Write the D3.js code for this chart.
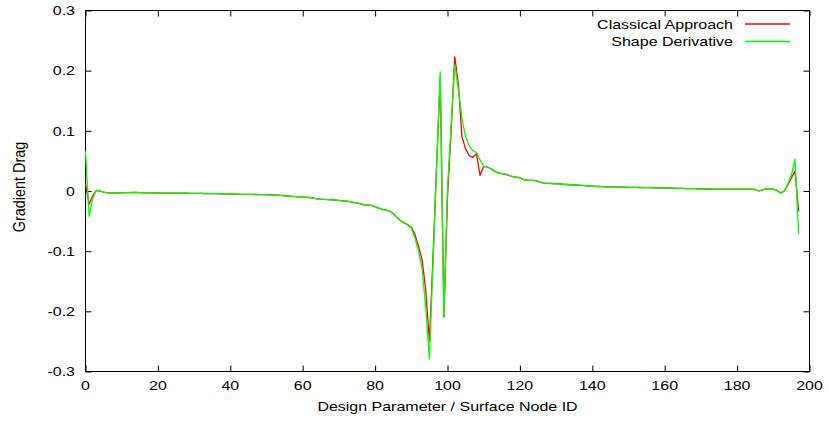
<!DOCTYPE html>
<html>
<head>
<meta charset="utf-8">
<script src="https://cdn.jsdelivr.net/npm/d3@7"></script>
<style>
body { margin: 0; background: #fff; }
text { font-family: "Liberation Sans", Arial, sans-serif; font-size: 16px; fill: #000; }
</style>
</head>
<body>
<svg id="chart" width="829" height="425"></svg>
<script>
'use strict';
// Gradient of drag per design parameter, two methods

const seriesNames = ['Classical Approach', 'Shape Derivative'];
const seriesColors = ['#ff0000', '#00ff00'];

// values for node 0 .. 197
const classical = [
	0.012, -0.022, -0.008, 0.001, 0.000, -0.002, -0.003, -0.003, -0.0032, -0.003,
	-0.003, -0.0028, -0.0026, -0.0024, -0.0025, -0.0027, -0.003, -0.003, -0.0031, -0.0032,
	-0.0033, -0.0034, -0.0034, -0.0035, -0.0035, -0.0036, -0.0036, -0.0036, -0.0037, -0.0038,
	-0.0039, -0.004, -0.0041, -0.0042, -0.0043, -0.0044, -0.0045, -0.0046, -0.0047, -0.0048,
	-0.005, -0.0052, -0.0054, -0.0056, -0.0056, -0.0055, -0.0056, -0.0058, -0.006, -0.0061,
	-0.0062, -0.0064, -0.0067, -0.007, -0.0074, -0.0079, -0.0084, -0.0089, -0.0094, -0.0099,
	-0.0102, -0.0105, -0.0108, -0.012, -0.0131, -0.0136, -0.0139, -0.0142, -0.0147, -0.0152,
	-0.0157, -0.0163, -0.0169, -0.0176, -0.0188, -0.0198, -0.0216, -0.0231, -0.0234, -0.0238,
	-0.026, -0.0283, -0.0305, -0.032, -0.0332, -0.0375, -0.0435, -0.049, -0.053, -0.056,
	-0.060, -0.072, -0.092, -0.115, -0.165, -0.250, -0.110, 0.045, 0.190, -0.209,
	-0.010, 0.100, 0.223, 0.178, 0.090, 0.070, 0.059, 0.056, 0.062, 0.026,
	0.041, 0.040, 0.037, 0.033, 0.030, 0.029, 0.028, 0.026, 0.024, 0.023,
	0.022, 0.019, 0.018, 0.0178, 0.0175, 0.016, 0.014, 0.013, 0.0128, 0.0125,
	0.012, 0.0118, 0.0112, 0.0108, 0.0104, 0.010, 0.0097, 0.0093, 0.0088, 0.0083,
	0.0079, 0.0076, 0.0075, 0.0072, 0.0070, 0.0068, 0.0066, 0.0064, 0.0063, 0.0062,
	0.0060, 0.0060, 0.0059, 0.0058, 0.0057, 0.0056, 0.0055, 0.0054, 0.0053, 0.0052,
	0.0051, 0.0050, 0.0048, 0.0047, 0.0045, 0.0043, 0.0041, 0.0040, 0.0038, 0.0037,
	0.0035, 0.0034, 0.0033, 0.0032, 0.0031, 0.0031, 0.0030, 0.0030, 0.0030, 0.0030,
	0.0030, 0.0030, 0.0030, 0.0030, 0.0030, 0.0025, 0.0000, 0.0020, 0.0035, 0.0040,
	0.0030, 0.0010, -0.0035, 0.0000, 0.010, 0.022, 0.033, -0.034
];

const shapeDerivative = [
	0.066, -0.042, -0.012, 0.001, 0.000, -0.002, -0.003, -0.003, -0.0032, -0.003,
	-0.003, -0.0028, -0.0026, -0.0024, -0.0025, -0.0027, -0.003, -0.003, -0.0031, -0.0032,
	-0.0033, -0.0034, -0.0034, -0.0035, -0.0035, -0.0036, -0.0036, -0.0036, -0.0037, -0.0038,
	-0.0039, -0.004, -0.0041, -0.0042, -0.0043, -0.0044, -0.0045, -0.0046, -0.0047, -0.0048,
	-0.005, -0.0052, -0.0054, -0.0056, -0.0056, -0.0055, -0.0056, -0.0058, -0.006, -0.0061,
	-0.0062, -0.0064, -0.0067, -0.007, -0.0074, -0.0079, -0.0084, -0.0089, -0.0094, -0.0099,
	-0.0102, -0.0105, -0.0108, -0.012, -0.0131, -0.0136, -0.0139, -0.0142, -0.0147, -0.0152,
	-0.0157, -0.0163, -0.0169, -0.0176, -0.0188, -0.0198, -0.0216, -0.0231, -0.0234, -0.0238,
	-0.026, -0.0283, -0.0305, -0.032, -0.0332, -0.0375, -0.0435, -0.049, -0.053, -0.056,
	-0.062, -0.078, -0.100, -0.130, -0.195, -0.279, -0.120, 0.040, 0.198, -0.210,
	0.005, 0.110, 0.210, 0.168, 0.120, 0.090, 0.075, 0.067, 0.064, 0.052,
	0.041, 0.040, 0.037, 0.033, 0.030, 0.029, 0.028, 0.026, 0.024, 0.023,
	0.022, 0.019, 0.018, 0.0178, 0.0175, 0.016, 0.014, 0.013, 0.0128, 0.0125,
	0.012, 0.0118, 0.0112, 0.0108, 0.0104, 0.010, 0.0097, 0.0093, 0.0088, 0.0083,
	0.0079, 0.0076, 0.0075, 0.0072, 0.0070, 0.0068, 0.0066, 0.0064, 0.0063, 0.0062,
	0.0060, 0.0060, 0.0059, 0.0058, 0.0057, 0.0056, 0.0055, 0.0054, 0.0053, 0.0052,
	0.0051, 0.0050, 0.0048, 0.0047, 0.0045, 0.0043, 0.0041, 0.0040, 0.0038, 0.0037,
	0.0035, 0.0034, 0.0033, 0.0032, 0.0031, 0.0031, 0.0030, 0.0030, 0.0030, 0.0030,
	0.0030, 0.0030, 0.0030, 0.0030, 0.0030, 0.0025, 0.0000, 0.0020, 0.0035, 0.0040,
	0.0030, 0.0010, -0.0035, 0.0000, 0.012, 0.026, 0.053, -0.071
];

const xTicks = [0, 20, 40, 60, 80, 100, 120, 140, 160, 180, 200];
const yTicks = [-0.3, -0.2, -0.1, 0, 0.1, 0.2, 0.3];
const yTickLabels = ['-0.3', '-0.2', '-0.1', '0', '0.1', '0.2', '0.3'];
const xTitle = 'Design Parameter / Surface Node ID';
const yTitle = 'Gradient Drag';

// plot box
const boxLeft = 85.5, boxRight = 809.5, boxTop = 10.5, boxBottom = 371.5;

const svg = d3.select('#chart');

const x = d3.scaleLinear().domain([0, 200]).range([boxLeft, boxRight]);
const y = d3.scaleLinear().domain([-0.3, 0.3]).range([boxBottom, boxTop]);

// put a text, a bit flattened like the original
function label(px, py, str, anchor, turn) {
	const tf = turn ? ' scale(1,0.9) rotate(-90)' : ' scale(1,0.85)';
	return svg.append('text')
		.attr('transform', 'translate(' + px + ',' + py + ')' + tf)
		.attr('text-anchor', anchor)
		.attr('dy', '0.35em')
		.text(str);
}

// tick marks point inward on all four sides
function ticks(axis, tx, ty) {
	const g = svg.append('g')
		.attr('transform', 'translate(' + tx + ',' + ty + ')')
		.call(axis.tickSizeInner(-6).tickSizeOuter(0).tickFormat(''));
	g.select('.domain').remove();
	g.selectAll('.tick line').attr('stroke', '#000');
}
ticks(d3.axisBottom(x).tickValues(xTicks), 0, boxBottom);
ticks(d3.axisTop(x).tickValues(xTicks), 0, boxTop);
ticks(d3.axisLeft(y).tickValues(yTicks), boxLeft, 0);
ticks(d3.axisRight(y).tickValues(yTicks), boxRight, 0);

svg.append('rect')
	.attr('x', boxLeft).attr('y', boxTop)
	.attr('width', boxRight - boxLeft).attr('height', boxBottom - boxTop)
	.attr('fill', 'none').attr('stroke', '#000').attr('stroke-width', 1);

yTicks.forEach(function(v, i) {
	label(75, y(v), yTickLabels[i], 'end');
});
xTicks.forEach(function(v) {
	label(x(v), 385, String(v), 'middle');
});
label((boxLeft + boxRight) / 2, 406, xTitle, 'middle');
label(19, 187, yTitle, 'middle', true);

const line = d3.line()
	.x(function(d, i) { return x(i); })
	.y(function(d) { return y(d); });

[classical, shapeDerivative].forEach(function(data, k) {
	svg.append('path')
		.datum(data)
		.attr('fill', 'none')
		.attr('stroke', seriesColors[k])
		.attr('stroke-width', 1.3)
		.attr('stroke-linejoin', 'round')
		.attr('d', line);
});

// legend in the top right corner
seriesNames.forEach(function(name, k) {
	const ly = 24 + k * 17.5;
	label(733, ly, name, 'end');
	svg.append('line')
		.attr('x1', 745).attr('x2', 790)
		.attr('y1', ly).attr('y2', ly)
		.attr('stroke', seriesColors[k])
		.attr('stroke-width', 1.3);
});
</script>
</body>
</html>
